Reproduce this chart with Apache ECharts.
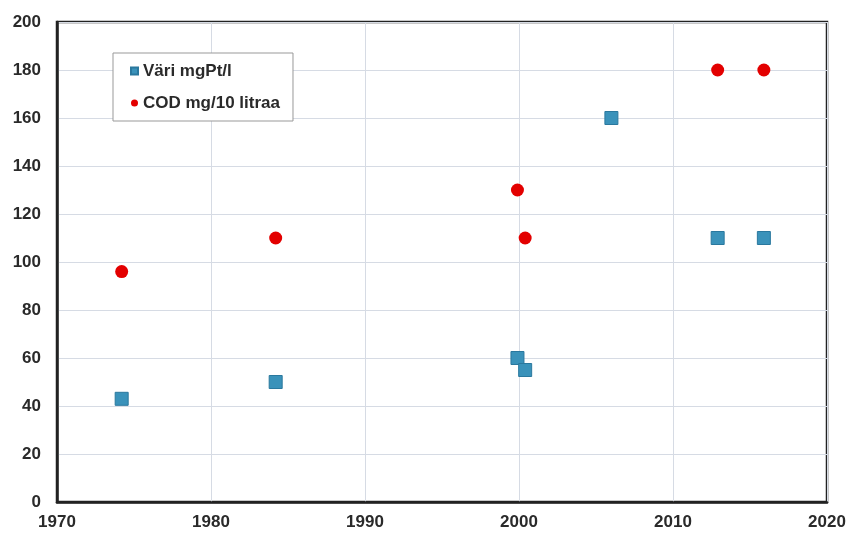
<!DOCTYPE html>
<html><head><meta charset="utf-8">
<script src="https://cdn.jsdelivr.net/npm/echarts@6/dist/echarts.min.js"></script>
<style>html,body{margin:0;padding:0;background:#fff}#c{width:852px;height:534px}</style>
</head><body><div id="c"></div>
<script>
const variYears = [1974.2, 1984.2, 1999.9, 2000.4, 2006.0, 2012.9, 2015.9];
const variValues = [43, 50, 60, 55, 160, 110, 110];
const codYears = [1974.2, 1984.2, 1999.9, 2000.4, 2012.9, 2015.9];
const codValues = [96, 110, 130, 110, 180, 180];
const xTicks = [1970, 1980, 1990, 2000, 2010, 2020];
const yTicks = [0, 20, 40, 60, 80, 100, 120, 140, 160, 180, 200];

const chart = echarts.init(document.getElementById('c'));
const lbl = {color:'#2a2a2a', fontFamily:'Liberation Sans, Arial', fontWeight:'bold', fontSize:17};
chart.setOption({
  animation:false,
  grid:{left:57, right:25, top:22, bottom:32, show:true, borderColor:'#222', borderWidth:2.5},
  legend:{
    orient:'vertical', left:113, top:53,
    padding:[9,13,9,17], itemGap:14, itemWidth:7, itemHeight:7,
    borderColor:'#999', borderWidth:1, backgroundColor:'#fff',
    textStyle:{color:'#2a2a2a', fontFamily:'Liberation Sans, Arial', fontWeight:'bold', fontSize:17, lineHeight:18},
    data:[{name:'Väri mgPt/l', icon:'rect'},{name:'COD mg/10 litraa', icon:'circle'}]
  },
  xAxis:{type:'value', min:1970, max:2020, interval:10,
    axisLine:{show:true, lineStyle:{color:'#222', width:2.5}}, axisTick:{show:false},
    splitLine:{show:true, lineStyle:{color:'#d6dbe4', width:1}},
    axisLabel:Object.assign({margin:12, formatter:v=>xTicks.includes(v)?String(v):''}, lbl)},
  yAxis:{type:'value', min:0, max:200, interval:20,
    axisLine:{show:true, lineStyle:{color:'#222', width:2.5}}, axisTick:{show:false},
    splitLine:{show:true, lineStyle:{color:'#d6dbe4', width:1}},
    axisLabel:Object.assign({margin:16, formatter:v=>yTicks.includes(v)?String(v):''}, lbl)},
  series:[
    {name:'Väri mgPt/l', type:'scatter', symbol:'rect', symbolSize:13,
     itemStyle:{color:'#3a92ba', borderColor:'#2a789e', borderWidth:1, opacity:1},
     data:variYears.map((x,i)=>[x, variValues[i]])},
    {name:'COD mg/10 litraa', type:'scatter', symbol:'circle', symbolSize:13,
     itemStyle:{color:'#e30000', opacity:1},
     data:codYears.map((x,i)=>[x, codValues[i]])}
  ]
});
</script></body></html>
